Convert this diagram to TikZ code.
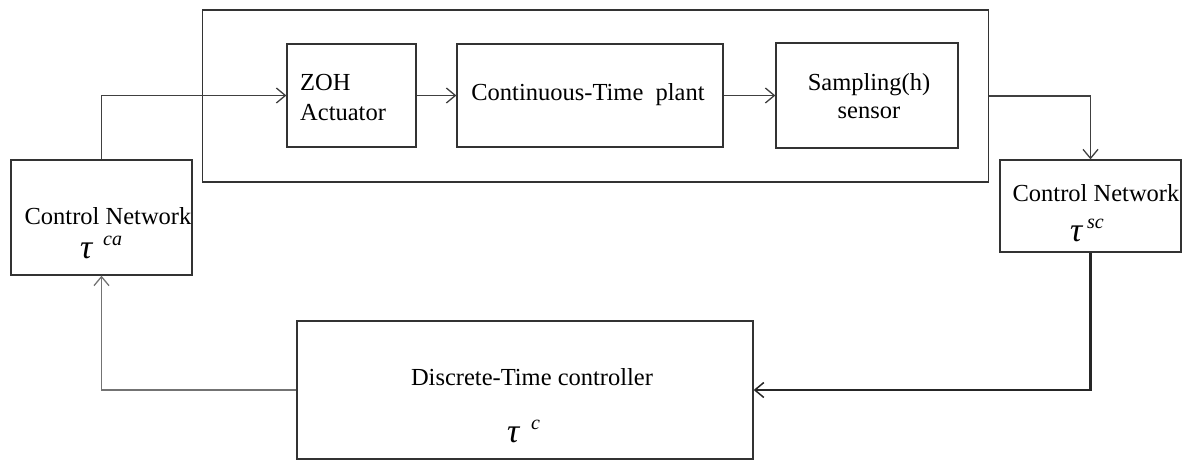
\documentclass[tikz,border=0pt]{standalone}
\usepackage{fontspec}
\setmainfont{Liberation Serif}
\usetikzlibrary{arrows.meta}
\tikzset{
  blk/.style={draw=black!80, line width=1.3pt, rectangle, inner sep=0pt, anchor=center},
  txt/.style={font=\fontsize{24.5}{29}\selectfont, inner sep=0pt, anchor=center},
  link/.style={draw=black!75, line width=1.3pt},
  tip/.style={-{Straight Barb[length=9pt,width=15pt,line width=1.3pt]}},
  tau/.style={inner sep=0pt, anchor=base west, font=\fontsize{34}{34}\selectfont\itshape},
  sup/.style={inner sep=0pt, anchor=base west, font=\fontsize{20}{20}\selectfont\itshape}
}
\begin{document}
\begin{tikzpicture}[x=1pt,y=-1pt]
\useasboundingbox (0,0) rectangle (1187,460);

% blocks
\node[blk, minimum width=786pt, minimum height=172pt] (outer) at (595.5,96) {};
\node[blk, minimum width=129pt, minimum height=103pt] (zoh) at (351.5,95.5) {};
\node[blk, minimum width=266pt, minimum height=103pt] (plant) at (590,95.5) {};
\node[blk, minimum width=182pt, minimum height=105pt] (samp) at (867,95.5) {};
\node[blk, minimum width=181pt, minimum height=115pt] (cnl) at (101.5,217.5) {};
\node[blk, minimum width=181pt, minimum height=92pt] (cnr) at (1090.5,206) {};
\node[blk, minimum width=456pt, minimum height=138pt] (ctrl) at (525,390) {};

% texts
\node[txt, anchor=west] (t1) at (300,83) {ZOH};
\node[txt, anchor=west] (t2) at (300,113) {Actuator};
\node[txt] (t3) at (588,95) {Continuous-Time\ \ plant};
\node[txt] (t4) at (869,85) {Sampling(h)};
\node[txt] (t5) at (869,113) {sensor};
\node[txt] (t6) at (108,216) {Control Network};
\node[txt] (t7) at (1096,193) {Control Network};
\node[txt] (t8) at (532,377) {Discrete-Time controller};

\node[tau] (a1) at (80,258) {τ};
\node[sup] (a2) at (103,245) {ca};
\node[tau] (b1) at (1070,241) {τ};
\node[sup] (b2) at (1087,228) {sc};
\node[tau] (c1) at (507,442) {τ};
\node[sup] (c2) at (531,429) {c};

% connectors
\draw[link, tip] (cnl.north) |- (zoh.west);
\draw[link, tip] (zoh.east) -- (plant.west);
\draw[link, tip] (plant.east) -- (samp.west);
\draw[link, tip] (outer.east) -| (cnr.north);
\draw[link, draw=black!85, line width=2.6pt, -{Straight Barb[length=9pt,width=15pt,line width=1.5pt]}] (cnr.south) |- (ctrl.east);
\draw[link, draw=black!55, tip] (ctrl.west) -| (cnl.south);
\end{tikzpicture}
\end{document}
